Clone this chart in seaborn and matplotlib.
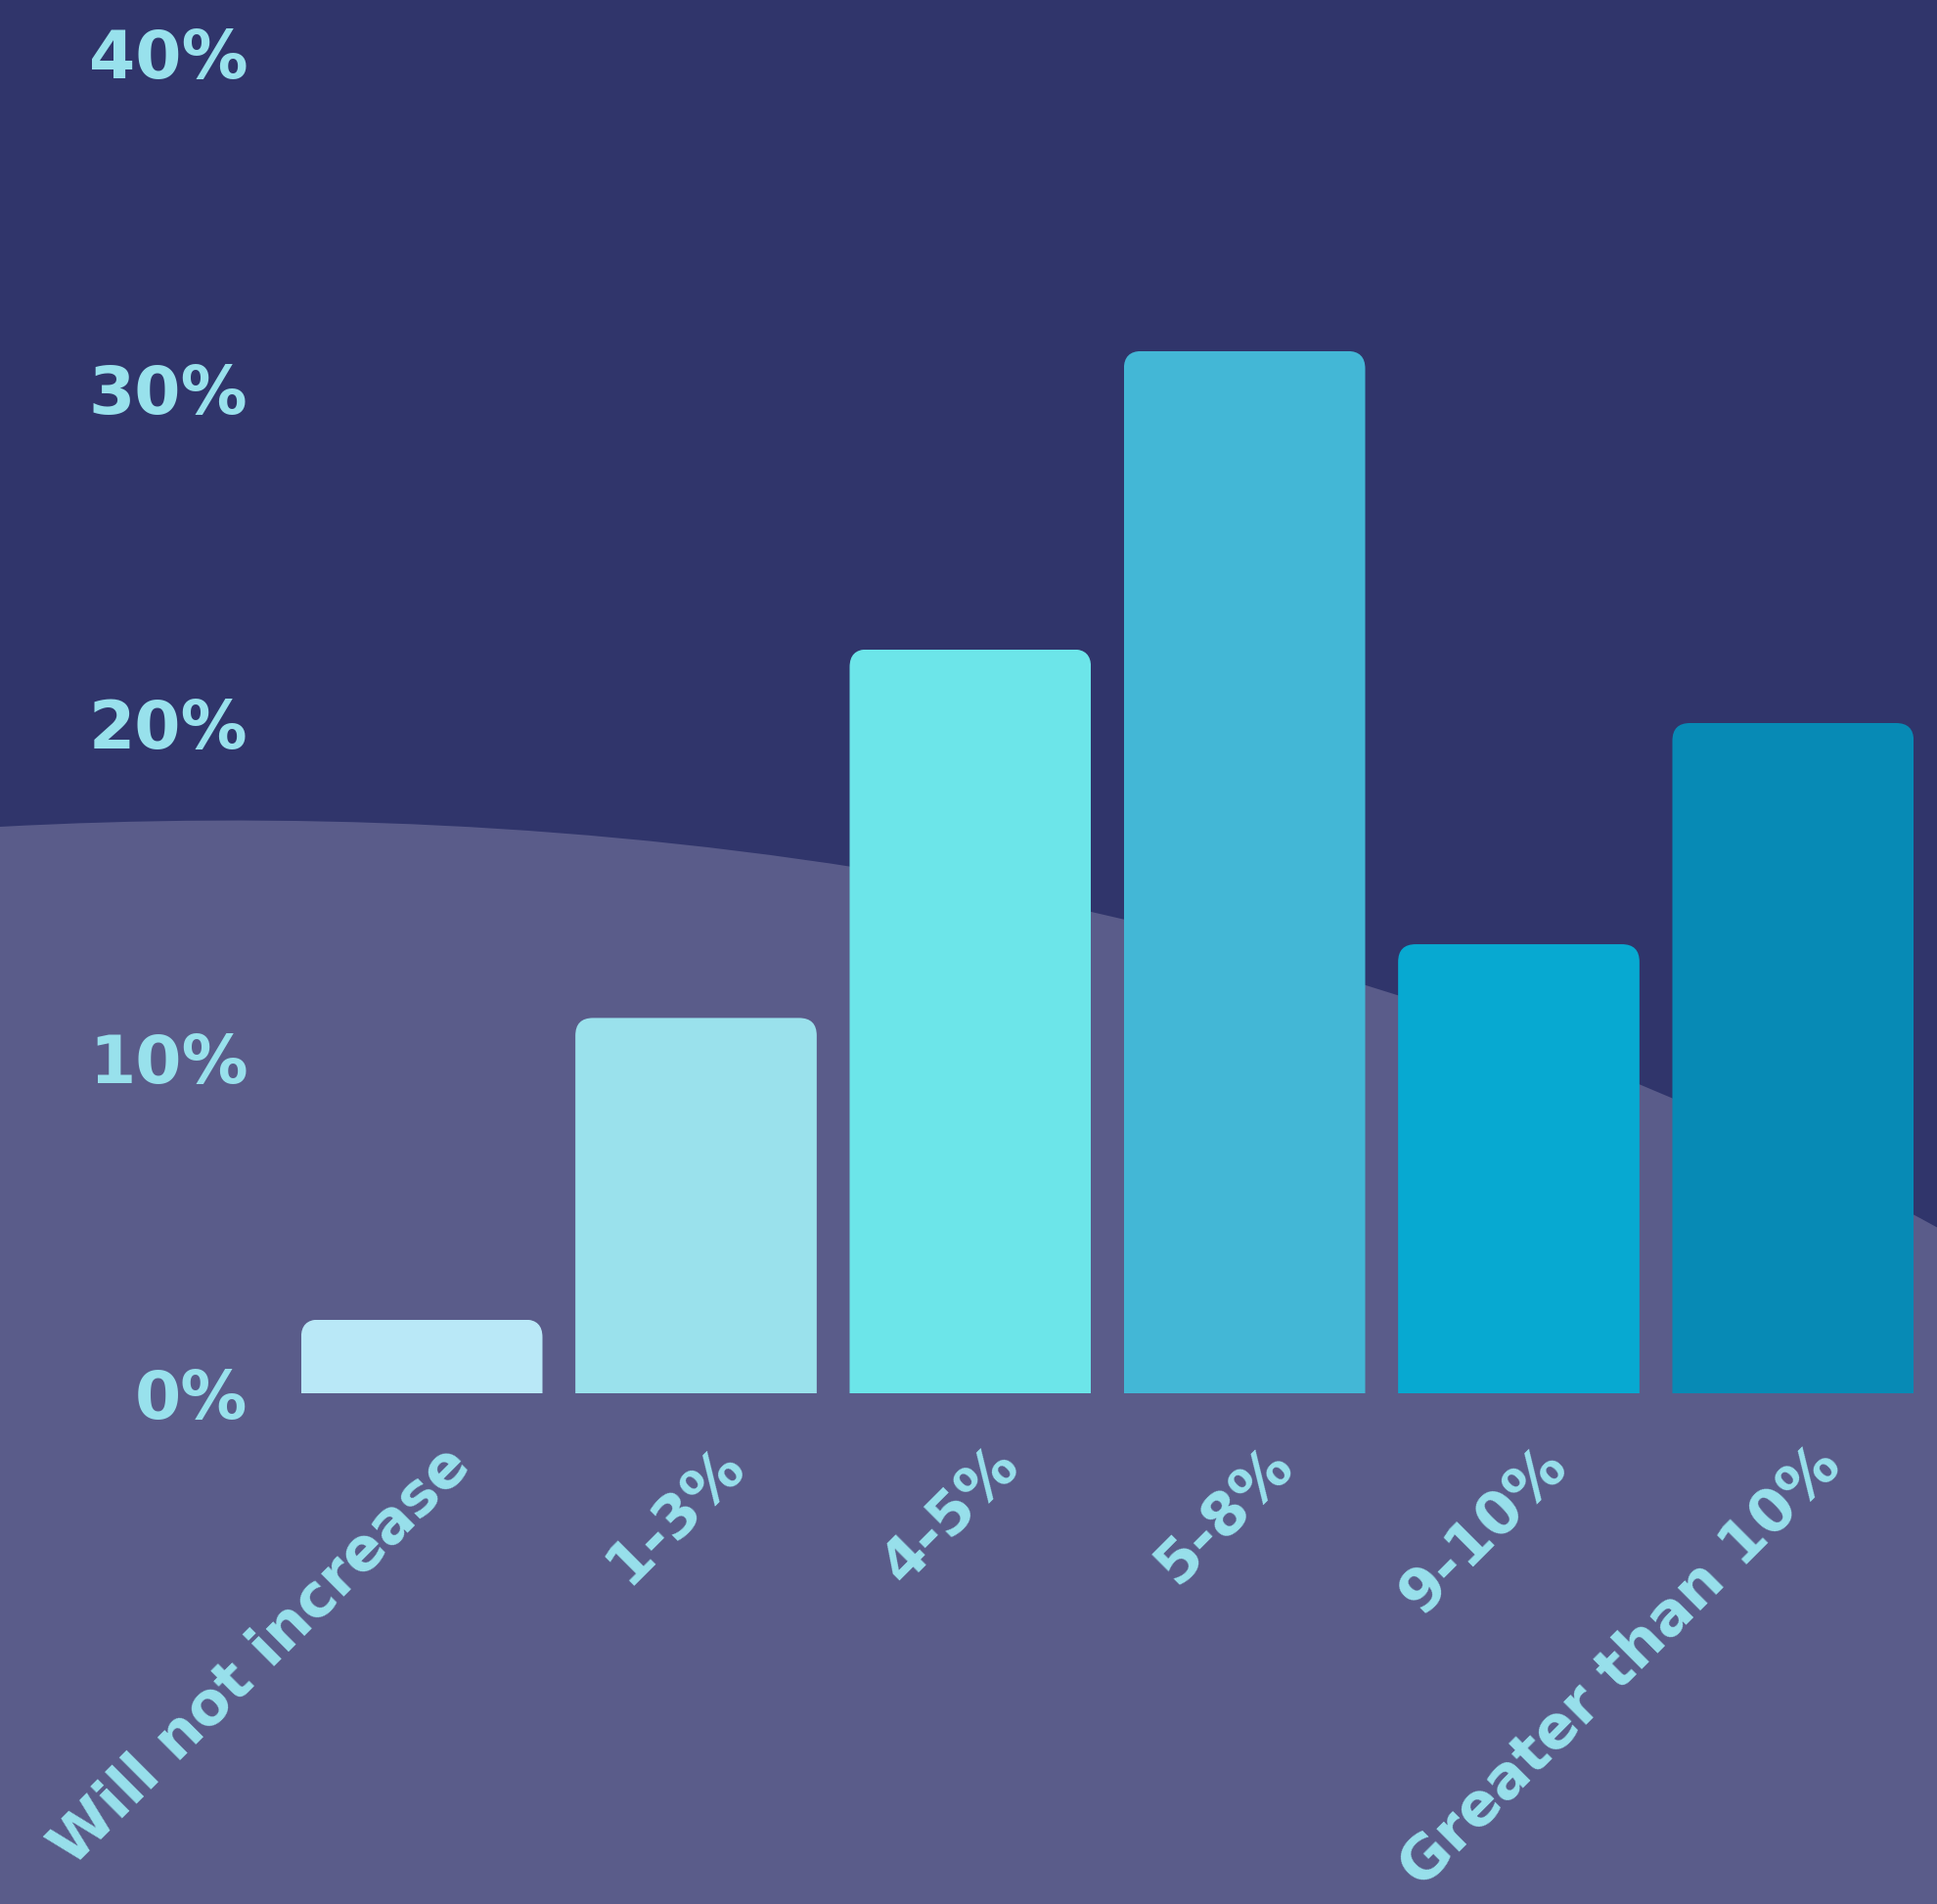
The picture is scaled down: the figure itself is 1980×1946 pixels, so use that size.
import matplotlib
matplotlib.use("Agg")
import matplotlib.pyplot as plt
import seaborn as sns
import pandas as pd
from matplotlib.path import Path
from matplotlib.patches import PathPatch, FancyBboxPatch
from matplotlib.ticker import FuncFormatter, FixedLocator
from matplotlib.transforms import ScaledTranslation

# Expected salary increase: share of respondents per bracket
categories = ["Will not increase", "1-3%", "4-5%", "5-8%", "9-10%", "Greater than 10%"]
shares = [2.2, 11.2, 22.2, 31.1, 13.4, 20.0]
y_ticks = [0, 10, 20, 30, 40]
bar_colors = ["#B9E8F7", "#9AE1EC", "#6CE5E9", "#43B7D6", "#07A9D1", "#078AB5"]

NAVY = "#30356B"
WAVE = "#5A5C8A"
TEXT = "#98E1EC"

sns.set_theme(style="white")
plt.rcParams["font.family"] = ["DejaVu Sans"]

W, H = 1981, 1946
fig = plt.figure(figsize=(W / 100, H / 100), dpi=100, facecolor=NAVY)

# Soft wave in the lower part of the background (pixel coords -> figure fraction)
def fp(x, y):
    return (x / W, 1 - y / H)

wave_verts = [fp(0, 845), fp(560, 815), fp(1300, 880), fp(1981, 1255),
              fp(1981, 1946), fp(0, 1946), fp(0, 845)]
wave_codes = [Path.MOVETO, Path.CURVE4, Path.CURVE4, Path.CURVE4,
              Path.LINETO, Path.LINETO, Path.CLOSEPOLY]
fig.add_artist(PathPatch(Path(wave_verts, wave_codes), facecolor=WAVE,
                         edgecolor="none", transform=fig.transFigure, zorder=0))

ax = fig.add_axes([291 / W, 1 - 1424 / H, (1973 - 291) / W, (1424 - 54) / H])
ax.set_facecolor("none")

df = pd.DataFrame({"category": categories, "share": shares})
sns.barplot(data=df, x="category", y="share", hue="category",
            palette=bar_colors, legend=False, width=0.88, saturation=1,
            linewidth=0, ax=ax)

ax.set_xlim(-0.5, len(categories) - 0.5)
ax.set_ylim(0, 40)
ax.yaxis.set_major_locator(FixedLocator(y_ticks))
ax.yaxis.set_major_formatter(FuncFormatter(lambda v, _: f"{v:.0f}%"))
ax.set_xlabel("")
ax.set_ylabel("")
for s in ax.spines.values():
    s.set_visible(False)
ax.grid(False)

ax.tick_params(axis="y", length=0, pad=27, labelsize=49, labelcolor=TEXT)
ax.tick_params(axis="x", length=0, pad=14, labelsize=44, labelcolor=TEXT)
for lab in ax.get_yticklabels():
    lab.set_fontweight("bold")
ax.set_xticks(range(len(categories)))
ax.set_xticklabels(categories, rotation=45, ha="right", va="center",
                   rotation_mode="anchor", fontweight="bold")
shift = ScaledTranslation(0.40, -0.45, fig.dpi_scale_trans)
for lab in ax.get_xticklabels():
    lab.set_transform(lab.get_transform() + shift)

# Rounded top corners on each bar (radius in pixels)
radius_px = 18
px_x = ax.transData.transform((1, 0))[0] - ax.transData.transform((0, 0))[0]
px_y = ax.transData.transform((0, 1))[1] - ax.transData.transform((0, 0))[1]
rx = radius_px / px_x
ry = radius_px / px_y
for bar in ax.patches:
    x0, w, h = bar.get_x(), bar.get_width(), bar.get_height()
    clip = FancyBboxPatch((x0, -5), w, h + 5,
                          boxstyle=f"round,pad=0,rounding_size={rx}",
                          mutation_aspect=ry / rx, transform=ax.transData)
    bar.set_clip_path(clip)

fig.savefig("out.png", dpi=100, facecolor=NAVY)
